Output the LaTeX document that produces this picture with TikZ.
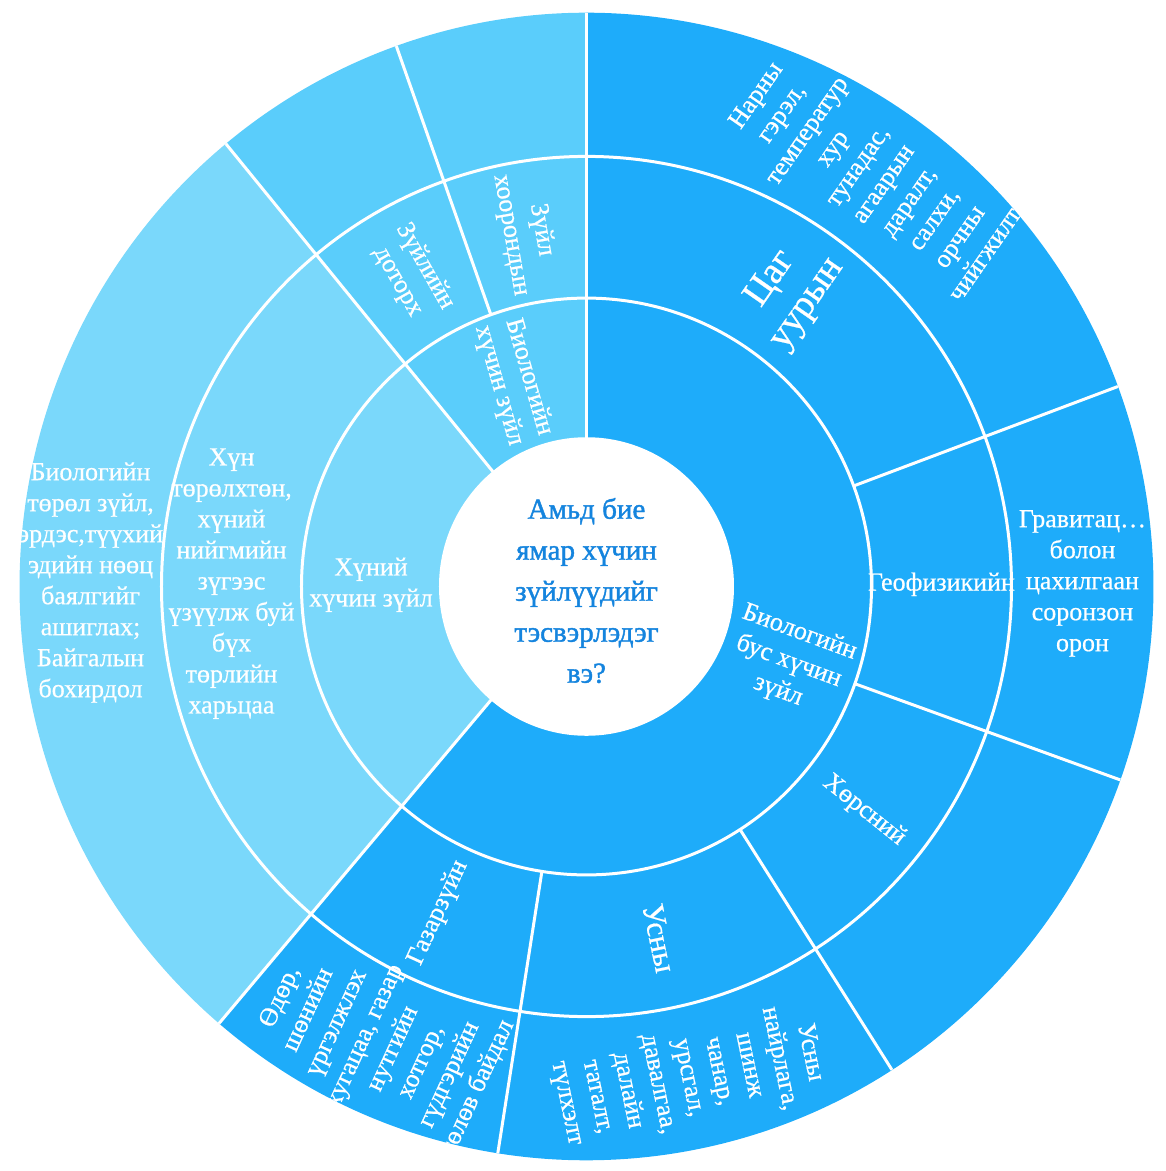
\documentclass[tikz,border=0pt]{standalone}
\usepackage{fontspec}
\setmainfont{Liberation Serif}
\newfontfamily\chartfont[FakeBold=0.6]{Liberation Serif}
\newfontfamily\questfont[FakeBold=1.4]{Liberation Serif}
\usepackage{tikz}
\usetikzlibrary{positioning}
\usepackage{xcolor}
\definecolor{abioblue}{RGB}{30,172,250}
\definecolor{bioblue}{RGB}{90,205,251}
\definecolor{humanblue}{RGB}{122,216,251}
\definecolor{qblue}{RGB}{20,132,222}

\begin{document}
\begin{tikzpicture}[
    x=1pt, y=1pt,
    divider/.style={draw=white, line width=3pt},
    seglabel/.style={text=white, align=center, inner sep=0pt, font=\chartfont\fontsize{26}{31}\selectfont},
    biglabel/.style={seglabel, font=\chartfont\fontsize{38}{44}\selectfont},
    midlabel/.style={seglabel, font=\chartfont\fontsize{31}{36}\selectfont},
    question/.style={text=qblue, align=center, inner sep=0pt, font=\questfont\fontsize{29}{41}\selectfont},
]
    \useasboundingbox (-586.5,-584.5) rectangle (579.5,586.5);

    \begin{scope}[yscale=1.012]
    % Branch wedges
    \fill[abioblue] (0,0) -- (-130.4:567) arc[start angle=-130.4, end angle=90, radius=567] -- cycle;
    \fill[bioblue] (0,0) -- (90:567) arc[start angle=90, end angle=129.5, radius=567] -- cycle;
    \fill[humanblue] (0,0) -- (129.5:567) arc[start angle=129.5, end angle=229.6, radius=567] -- cycle;

    % Ring borders
    \draw[divider] (0,0) circle[radius=285];
    \draw[divider] (0,0) circle[radius=425];

    % Radial borders
    \draw[divider] (90:146) -- (90:567);
    \draw[divider] (129.5:146) -- (129.5:567);
    \draw[divider] (229.6:146) -- (229.6:567);
    \draw[divider] (109.6:285) -- (109.6:567);
    \draw[divider] (20.4:285) -- (20.4:567);
    \draw[divider] (-19.7:285) -- (-19.7:567);
    \draw[divider] (-57.4:285) -- (-57.4:567);
    \draw[divider] (-99:285) -- (-99:567);

    % Centre
    \fill[white] (0,0) circle[radius=147.5];
    \node[question] (q) at (0,-4) {Амьд бие\\ямар хүчин\\зүйлүүдийг\\тэсвэрлэдэг\\вэ?};

    \begin{scope}
    \clip (0,0) circle[radius=567];
    % Ring 1
    \node[seglabel, rotate=-20.2] (abio) at (-20.2:215.5) {Биологийн\\бус хүчин\\зүйл};
    \node[seglabel, rotate=-74] (bio) at (109.75:215.5) {Биологийн\\хүчин зүйл};
    \node[seglabel] (human) at (179.55:215.5) {Хүний\\хүчин зүйл};

    % Ring 2
    \node[biglabel, rotate=55.2] (climate) at (55.2:355) {Цаг\\уурын};
    \node[seglabel] (geo) at (0.35:355) {Геофизикийн};
    \node[seglabel, rotate=-38.55] (soil) at (-38.55:355) {Хөрсний};
    \node[midlabel, rotate=-78.2] (water) at (-78.2:355) {Усны};
    \node[seglabel, rotate=65.3] (geog) at (-114.7:355) {Газарзүйн};
    \node[seglabel] (humanrel) at (179.55:355) {Хүн\\төрөлхтөн,\\хүний\\нийгмийн\\зүгээс\\үзүүлж буй\\бүх\\төрлийн\\харьцаа};
    \node[seglabel, rotate=-60.45] (intra) at (119.55:355) {Зүйлийн\\доторх};
    \node[seglabel, rotate=-80.2] (inter) at (99.8:355) {Зүйл\\хоорондын};

    % Ring 3
    \node[seglabel, rotate=55.2] (climatedet) at (55.2:496) {Нарны\\гэрэл,\\температур\\хур\\тунадас,\\агаарын\\даралт,\\салхи,\\орчны\\чийгжилт};
    \node[seglabel] (geodet) at (0.35:496) {Гравитац…\\болон\\цахилгаан\\соронзон\\орон};
    \node[seglabel, rotate=-78.2] (waterdet) at (-78.2:496) {Усны\\найрлага,\\шинж\\чанар,\\урсгал,\\давалгаа,\\далайн\\таталт,\\түлхэлт};
    \node[seglabel, rotate=65.3] (geogdet) at (-114.7:496) {Өдөр,\\шөнийн\\үргэлжлэх\\хугацаа, газар\\нутгийн\\хотгор,\\гүдгэрийн\\төлөв байдал};
    \node[seglabel] (biodet) at (179.55:496) {Биологийн\\төрөл зүйл,\\эрдэс,түүхий\\эдийн нөөц\\баялгийг\\ашиглах;\\Байгалын\\бохирдол};
    \end{scope}
    \end{scope}
\end{tikzpicture}
\end{document}
